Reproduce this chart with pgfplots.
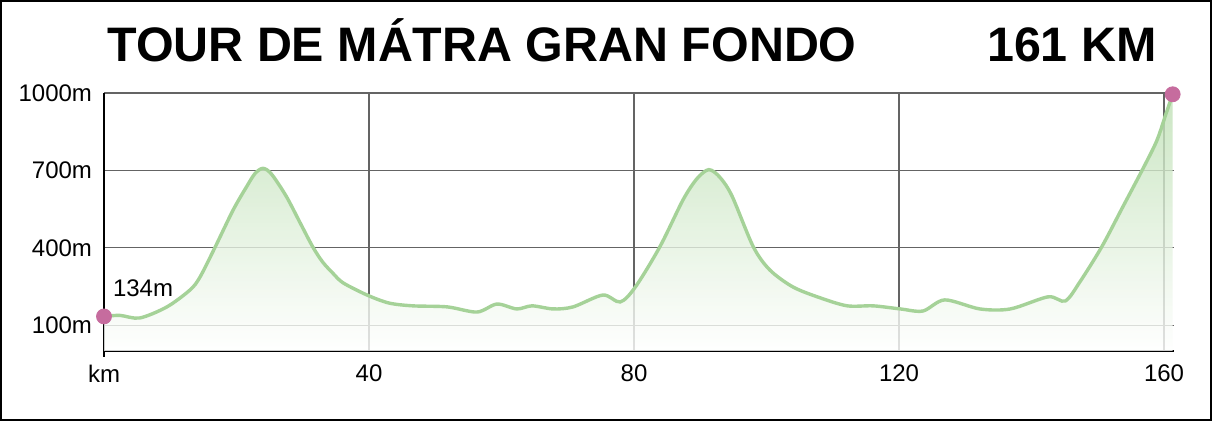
\documentclass[border=0pt]{standalone}
\usepackage{pgfplots}
\pgfplotsset{compat=1.18}
\usepackage{fontspec}
\setmainfont{Liberation Sans}
\definecolor{lineg}{RGB}{165,210,152}
\definecolor{fillg}{RGB}{190,224,180}
\definecolor{dotc}{RGB}{198,108,158}
\definecolor{gridc}{RGB}{100,100,100}
\begin{document}
\begin{tikzpicture}
\useasboundingbox (0,0) rectangle (606bp,210.5bp);
\fill[white] (0,0) rectangle (606bp,210.5bp);
\draw[black, line width=1bp] (0.5bp,0.5bp) rectangle (605.5bp,210bp);
\node[anchor=base west, font=\fontsize{24.2bp}{28bp}\selectfont\bfseries, inner sep=0pt] at (53.5bp,179.5bp) {TOUR DE MÁTRA GRAN FONDO};
\node[anchor=base east, font=\fontsize{24.2bp}{28bp}\selectfont\bfseries, inner sep=0pt] at (578.5bp,179.5bp) {161 KM};
\begin{axis}[
  at={(52bp,35bp)}, anchor=south west,
  scale only axis, width=535bp, height=129bp,
  xmin=0, xmax=161.5, ymin=0, ymax=1000,
  axis x line*=bottom, axis y line*=left,
  axis line style={black, line width=1bp},
  xtick={0,40,80,120,160}, xticklabels={km,40,80,120,160},
  ytick={100,400,700,1000}, yticklabels={100m,400m,700m,1000m},
  major tick length=0pt, tickwidth=0pt,
  xtick style={draw=none, line width=0pt}, ytick style={draw=none, line width=0pt},
  /pgf/number format/assume math mode=true,
  ticklabel style={font=\fontsize{12bp}{14bp}\selectfont},
  xticklabel style={yshift=-3.5bp},
  yticklabel style={xshift=-2.5bp},
  grid=major,
  major grid style={gridc, line width=0.6bp},
  clip=false,
]
\addplot[draw=none, top color=fillg, bottom color=white, fill opacity=0.8, smooth, tension=0.5] coordinates {
(0,134) (2.4,138) (5.4,128) (9.5,171) (13.0,237) (14.5,287) (16.8,404) (19.5,547) (21.6,640) (22.8,688) (24.0,708) (25.3,685) (27.5,600) (29.6,497) (31.5,404) (33.0,345) (34.6,300) (36.1,264) (39.7,217) (43.0,186) (46.6,175) (51.8,171) (56.3,151) (59.3,182) (62.3,163) (64.6,175) (67.8,163) (70.8,171) (75.3,217) (77.9,190) (80.2,248) (83.9,404) (87.4,586) (89.5,668) (91.3,703) (93.0,672) (94.8,600) (98.0,404) (100.5,314) (104.0,248) (108.1,206) (112.2,175) (116.1,175) (120.2,163) (123.6,155) (126.9,198) (132.2,163) (136.8,163) (142.5,210) (145.1,194) (147.4,272) (150.6,404) (153.7,555) (156.8,706) (158.9,815) (160.3,920) (161.3,995)
} \closedcycle;
\addplot[lineg, line width=1.7bp, smooth, tension=0.5] coordinates {
(0,134) (2.4,138) (5.4,128) (9.5,171) (13.0,237) (14.5,287) (16.8,404) (19.5,547) (21.6,640) (22.8,688) (24.0,708) (25.3,685) (27.5,600) (29.6,497) (31.5,404) (33.0,345) (34.6,300) (36.1,264) (39.7,217) (43.0,186) (46.6,175) (51.8,171) (56.3,151) (59.3,182) (62.3,163) (64.6,175) (67.8,163) (70.8,171) (75.3,217) (77.9,190) (80.2,248) (83.9,404) (87.4,586) (89.5,668) (91.3,703) (93.0,672) (94.8,600) (98.0,404) (100.5,314) (104.0,248) (108.1,206) (112.2,175) (116.1,175) (120.2,163) (123.6,155) (126.9,198) (132.2,163) (136.8,163) (142.5,210) (145.1,194) (147.4,272) (150.6,404) (153.7,555) (156.8,706) (158.9,815) (160.3,920) (161.3,995)
};
\addplot[only marks, mark=*, mark size=3.75bp, dotc, mark options={draw=dotc, fill=dotc}] coordinates {(0,134) (161.3,995)};
\draw[black, line width=1bp] (axis cs:0,0) -- (axis cs:0,-24);
\node[anchor=west, font=\fontsize{12bp}{14bp}\selectfont, inner sep=0pt] at (axis cs:1.3,242) {134m};
\end{axis}
\end{tikzpicture}
\end{document}
